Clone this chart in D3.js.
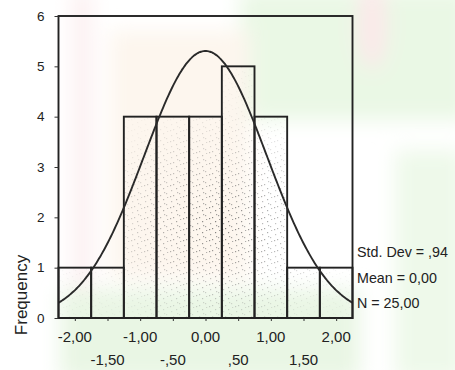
<!DOCTYPE html>
<html>
<head>
<meta charset="utf-8">
<script src="https://cdn.jsdelivr.net/npm/d3@7"></script>
<style>
  body { margin: 0; background: #fff; }
  text { font-family: Arial, "Liberation Sans", sans-serif; fill: #222; }
</style>
</head>
<body>
<script>
// histogram bins (midpoints) and counts
const binMids = [-2.0, -1.5, -1.0, -0.5, 0.0, 0.5, 1.0, 1.5, 2.0];
const counts = [1, 1, 4, 4, 4, 5, 4, 1, 1];
const binWidth = 0.5;

// summary stats printed beside the chart
const stats = {sd: 0.94, mean: 0.0, n: 25};
const statLabels = ['Std. Dev = ,94', 'Mean = 0,00', 'N = 25,00'];

// tick labels
const yTicks = [0, 1, 2, 3, 4, 5, 6];
const xTicksTop = [-2, -1, 0, 1, 2];
const xTicksBottom = [-1.5, -0.5, 0.5, 1.5];
const xTickText = {'-2': '-2,00', '-1': '-1,00', '0': '0,00', '1': '1,00', '2': '2,00',
  '-1.5': '-1,50', '-0.5': '-,50', '0.5': ',50', '1.5': '1,50'};

const width = 455, height = 370;
const plot = {left: 58.5, right: 352.5, top: 16, bottom: 318};

const svg = d3.select('body').append('svg')
  .attr('width', width)
  .attr('height', height);

// faint scan watermark in the background
const defs = svg.append('defs');
defs.append('filter').attr('id', 'blur')
  .append('feGaussianBlur').attr('stdDeviation', 10);

const wm = svg.append('g').attr('filter', 'url(#blur)');
wm.append('rect').attr('x', 240).attr('y', -10).attr('width', 230).attr('height', 130).attr('fill', '#eaf8e5');
wm.append('rect').attr('x', 110).attr('y', 30).attr('width', 140).attr('height', 250).attr('fill', '#fdf6ee');
wm.append('rect').attr('x', 72).attr('y', -10).attr('width', 20).attr('height', 390).attr('fill', '#fcf0f1');
wm.append('rect').attr('x', 60).attr('y', 290).attr('width', 300).attr('height', 90).attr('fill', '#e9f6e4');
wm.append('rect').attr('x', 395).attr('y', 150).attr('width', 70).attr('height', 230).attr('fill', '#eef9ea');
wm.append('ellipse').attr('cx', 372).attr('cy', 25).attr('rx', 14).attr('ry', 45).attr('fill', '#fce8ea');

// speckle pattern for bar interiors, denser toward the middle
const pat = defs.append('pattern').attr('id', 'speck')
  .attr('patternUnits', 'userSpaceOnUse').attr('width', 13).attr('height', 11);
[[2, 3], [7, 1], [10, 6], [4, 8], [11, 10], [1, 9], [8, 5]].forEach(([px, py], i) => {
  pat.append('rect').attr('x', px).attr('y', py).attr('width', 1.2).attr('height', 1.2)
    .attr('fill', i % 2 ? '#555' : '#777');
});
const grad = defs.append('radialGradient').attr('id', 'fade')
  .attr('gradientUnits', 'userSpaceOnUse')
  .attr('cx', 220).attr('cy', 225).attr('r', 130)
  .attr('gradientTransform', 'translate(220,225) scale(1,0.9) translate(-220,-225)');
grad.append('stop').attr('offset', '0%').attr('stop-color', '#fff').attr('stop-opacity', 0.75);
grad.append('stop').attr('offset', '100%').attr('stop-color', '#fff').attr('stop-opacity', 0.05);
defs.append('mask').attr('id', 'speckMask')
  .append('rect').attr('width', width).attr('height', height).attr('fill', 'url(#fade)');

const x = d3.scaleLinear()
  .domain([binMids[0] - binWidth / 2, binMids[binMids.length - 1] + binWidth / 2])
  .range([plot.left, plot.right]);
const y = d3.scaleLinear().domain([0, 6]).range([plot.bottom, plot.top]);

// bars
const bars = svg.append('g');
bars.append('g').attr('mask', 'url(#speckMask)')
  .selectAll('rect')
  .data(binMids)
  .enter().append('rect')
  .attr('x', (d) => x(d - binWidth / 2))
  .attr('y', (d, i) => y(counts[i]))
  .attr('width', x(binWidth) - x(0))
  .attr('height', (d, i) => y(0) - y(counts[i]))
  .attr('fill', 'url(#speck)');
bars.selectAll('rect.bar')
  .data(binMids)
  .enter().append('rect')
  .attr('class', 'bar')
  .attr('x', (d) => x(d - binWidth / 2))
  .attr('y', (d, i) => y(counts[i]))
  .attr('width', x(binWidth) - x(0))
  .attr('height', (d, i) => y(0) - y(counts[i]))
  .attr('fill', 'none')
  .attr('stroke', '#222')
  .attr('stroke-width', 1.9);

// fitted normal curve
const peak = stats.n * binWidth / (stats.sd * Math.sqrt(2 * Math.PI));
const xs = d3.range(x.domain()[0], x.domain()[1] + 0.001, 0.02);
const line = d3.line()
  .x((d) => x(d))
  .y((d) => y(peak * Math.exp(-0.5 * Math.pow((d - stats.mean) / stats.sd, 2))))
  .curve(d3.curveBasis);
svg.append('path')
  .datum(xs)
  .attr('d', line)
  .attr('fill', 'none')
  .attr('stroke', '#2a2a2a')
  .attr('stroke-width', 1.9);

// frame
svg.append('rect')
  .attr('x', plot.left).attr('y', plot.top)
  .attr('width', plot.right - plot.left)
  .attr('height', plot.bottom - plot.top)
  .attr('fill', 'none')
  .attr('stroke', '#222')
  .attr('stroke-width', 1.9);

// y axis
const yAxis = svg.append('g')
  .attr('transform', `translate(${plot.left},0)`)
  .call(d3.axisLeft(y).tickValues(yTicks).tickSize(4).tickPadding(10).tickFormat(d3.format('d')));
yAxis.select('.domain').remove();
yAxis.selectAll('line').attr('stroke', '#333');
yAxis.selectAll('text').style('font-size', '13.5px').attr('fill', '#222');

// x axis, two staggered rows of labels
const xAxis = svg.append('g')
  .attr('transform', `translate(0,${plot.bottom})`)
  .call(d3.axisBottom(x).tickValues(xTicksTop.concat(xTicksBottom)).tickSize(3).tickFormat(''));
xAxis.select('.domain').remove();
xAxis.selectAll('line').attr('stroke', '#333');

svg.append('g').selectAll('text')
  .data(xTicksTop)
  .enter().append('text')
  .attr('x', (d) => x(d))
  .attr('y', 342)
  .attr('text-anchor', 'middle')
  .style('font-size', '15px')
  .text((d) => xTickText[String(d)]);

svg.append('g').selectAll('text')
  .data(xTicksBottom)
  .enter().append('text')
  .attr('x', (d) => x(d))
  .attr('y', 365)
  .attr('text-anchor', 'middle')
  .style('font-size', '15px')
  .text((d) => xTickText[String(d)]);

// y axis title
svg.append('text')
  .attr('transform', 'translate(27,295) rotate(-90)')
  .attr('text-anchor', 'middle')
  .style('font-size', '17px')
  .text('Frequency');

// stats block
svg.append('g').selectAll('text')
  .data(statLabels)
  .enter().append('text')
  .attr('x', 357)
  .attr('y', (d, i) => 257 + i * 25.5)
  .style('font-size', '14.3px')
  .text((d) => d);
</script>
</body>
</html>
